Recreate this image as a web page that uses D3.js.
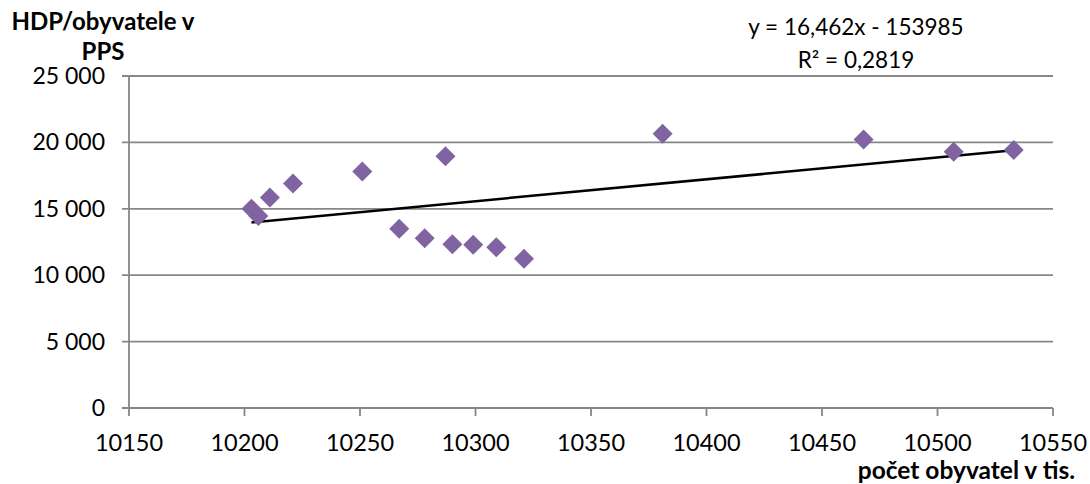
<!DOCTYPE html>
<html>
<head>
<meta charset="utf-8">
<script src="https://cdn.jsdelivr.net/npm/d3@7"></script>
<style>
  html, body { margin: 0; padding: 0; background: #fff; }
  svg { display: block; font-family: Lato, "Open Sans", sans-serif; }
</style>
</head>
<body>
<svg id="chart" width="1090" height="484"></svg>
<script>
// ---- data ----
const population = [10203, 10206, 10211, 10221, 10251, 10287, 10267, 10278, 10290, 10299, 10309, 10321, 10381, 10468, 10507, 10533];
const gdpPerCapita = [15000, 14450, 15850, 16900, 17800, 18950, 13500, 12780, 12330, 12300, 12100, 11230, 20650, 20220, 19290, 19420];
const xTicks = [10150, 10200, 10250, 10300, 10350, 10400, 10450, 10500, 10550];
const yTicks = [0, 5000, 10000, 15000, 20000, 25000];
const trendSlope = 16.462;
const trendIntercept = -153985;
const equationLines = ["y = 16,462x - 153985", "R² = 0,2819"];
const yTitleLines = ["HDP/obyvatele v", "PPS"];
const xTitle = "počet obyvatel v tis.";

// ---- layout ----
const svg = d3.select("#chart");
const x = d3.scaleLinear().domain([10150, 10550]).range([129, 1053]);
const y = d3.scaleLinear().domain([0, 25000]).range([408, 76]);
const gridColor = "#878787";
const fmtY = v => d3.format(",")(v).replace(/,/g, " ");

// gridlines (with left tick marks)
svg.append("g").selectAll("line").data(yTicks).join("line")
  .attr("x1", 122).attr("x2", x.range()[1])
  .attr("y1", d => y(d)).attr("y2", d => y(d))
  .attr("stroke", gridColor).attr("stroke-width", 1.8);

// y axis line
svg.append("line")
  .attr("x1", x.range()[0]).attr("x2", x.range()[0])
  .attr("y1", y(0)).attr("y2", y(25000))
  .attr("stroke", gridColor).attr("stroke-width", 1.8);

// x axis tick marks
svg.append("g").selectAll("line").data(xTicks).join("line")
  .attr("x1", d => x(d)).attr("x2", d => x(d))
  .attr("y1", y(0)).attr("y2", y(0) + 8)
  .attr("stroke", gridColor).attr("stroke-width", 1.8);

// y tick labels
svg.append("g").selectAll("text").data(yTicks).join("text")
  .attr("x", 105).attr("y", d => y(d))
  .attr("dy", "0.35em")
  .attr("text-anchor", "end")
  .attr("font-size", 23).attr("fill", "#000")
  .text(d => fmtY(d));

// x tick labels
svg.append("g").selectAll("text").data(xTicks).join("text")
  .attr("x", d => x(d)).attr("y", 451)
  .attr("text-anchor", "middle")
  .attr("font-size", 23.5).attr("fill", "#000")
  .text(d => d);

// trend line
const xExt = d3.extent(population);
const trend = xExt.map(v => [v, trendSlope * v + trendIntercept]);
svg.append("path")
  .attr("d", d3.line().x(d => x(d[0])).y(d => y(d[1]))(trend))
  .attr("stroke", "#000").attr("stroke-width", 2.5).attr("fill", "none");

// points
const pts = population.map((p, i) => [p, gdpPerCapita[i]]);
svg.append("g").selectAll("path").data(pts).join("path")
  .attr("d", d3.symbol(d3.symbolSquare, 200))
  .attr("transform", d => `translate(${x(d[0])},${y(d[1])}) rotate(45)`)
  .attr("fill", "#8064A2");

// y title
svg.append("g").selectAll("text").data(yTitleLines).join("text")
  .attr("x", 103).attr("y", (d, i) => 30 + i * 30)
  .attr("text-anchor", "middle")
  .attr("font-size", 24).attr("font-weight", "bold").attr("fill", "#000")
  .text(d => d);

// x title
svg.append("text")
  .attr("x", 1075).attr("y", 479)
  .attr("text-anchor", "end")
  .attr("font-size", 24.5).attr("font-weight", "bold").attr("fill", "#000")
  .text(xTitle);

// equation
svg.append("g").selectAll("text").data(equationLines).join("text")
  .attr("x", 856).attr("y", (d, i) => 35 + i * 33)
  .attr("text-anchor", "middle")
  .attr("font-size", 22.5).attr("fill", "#000")
  .text(d => d);
</script>
</body>
</html>
